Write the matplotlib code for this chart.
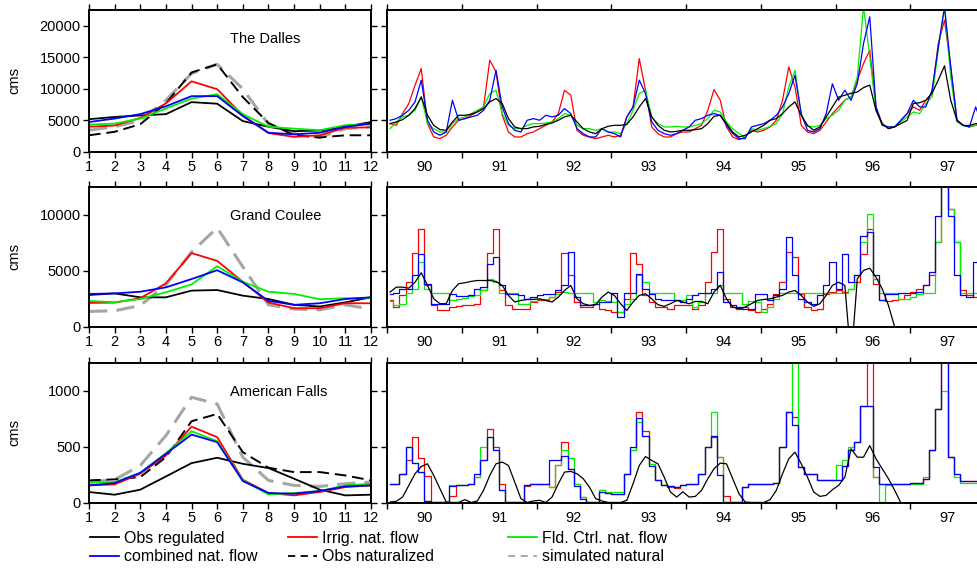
import numpy as np
import matplotlib
matplotlib.use("Agg")  # no display
import matplotlib.pyplot as plt
from matplotlib.lines import Line2D

plt.rcParams["font.family"] = ["Liberation Sans", "DejaVu Sans"]
nan = np.nan

# =========================
# AXES / LABELS
# =========================
MONTHS = list(range(1, 13))
YEARS = list(range(1990, 1998))
YEAR_LABELS = ["90", "91", "92", "93", "94", "95", "96", "97"]
STATIONS = ["The Dalles", "Grand Coulee", "American Falls"]
Y_TOP = [22500, 12500, 1250]
Y_TICKS = [[0, 5000, 10000, 15000, 20000], [0, 5000, 10000], [0, 500, 1000]]

# =========================
# MEAN MONTHLY FLOW (left column)
# =========================
DALLES_REG = [5200, 5550, 5800, 6000, 7900, 7650, 4900, 4000, 3300, 3400, 4000, 4750]
DALLES_IRR = [4000, 4200, 5400, 7700, 11200, 9950, 5800, 3000, 2400, 2650, 3850, 3900]
DALLES_FLD = [4350, 4500, 5300, 6900, 8450, 9150, 6000, 4000, 3700, 3450, 4250, 4400]
DALLES_COMB = [4750, 5300, 6000, 7250, 8850, 8850, 5700, 3050, 2800, 3050, 4000, 4500]
DALLES_OBSNAT = [2650, 3200, 4400, 7700, 12600, 13900, 8700, 4600, 2650, 2300, 2650, 2650]
DALLES_SIMNAT = [3450, 4000, 5000, 8200, 12450, 13900, 10000, 4400, 2900, 2300, 3700, 4000]

COULEE_REG = [2860, 3000, 2650, 2650, 3250, 3300, 2800, 2500, 1980, 1830, 2200, 2650]
COULEE_IRR = [2150, 2180, 2570, 3900, 6600, 5900, 4040, 2180, 1680, 1680, 2120, 2120]
COULEE_FLD = [2330, 2210, 2500, 3100, 3800, 5430, 4040, 3150, 2950, 2480, 2570, 2570]
COULEE_COMB = [2950, 3000, 3150, 3540, 4280, 5070, 3980, 2330, 1980, 2120, 2500, 2650]
COULEE_OBSNAT = [nan] * 12
COULEE_SIMNAT = [1390, 1450, 1920, 3750, 6700, 8850, 5370, 1980, 1600, 1530, 1980, 1600]

FALLS_REG = [98, 74, 119, 237, 356, 404, 350, 312, 217, 119, 68, 74]
FALLS_IRR = [157, 166, 261, 424, 682, 588, 208, 89, 68, 98, 142, 157]
FALLS_FLD = [181, 187, 267, 445, 641, 552, 202, 77, 89, 107, 157, 172]
FALLS_COMB = [157, 178, 270, 439, 611, 543, 196, 89, 83, 107, 148, 157]
FALLS_OBSNAT = [202, 211, 231, 409, 730, 795, 454, 315, 276, 276, 246, 202]
FALLS_SIMNAT = [187, 208, 335, 602, 944, 884, 409, 202, 157, 148, 172, 187]

# =========================
# MONTHLY SERIES 1990-1997 (right column)
# =========================
DALLES_TS_REG = [
    4500, 4760, 5130, 5820, 6880, 8730, 5820, 4230, 3540, 3440, 4760, 5820,
    5820, 5980, 6350, 6880, 7940, 8470, 7670, 5290, 3970, 3700, 3700, 3970,
    4070, 4390, 4600, 5030, 5560, 5820, 4760, 3700, 3170, 2910, 3700, 4070,
    4230, 4230, 4390, 5560, 7140, 8470, 5560, 4230, 3440, 3170, 3280, 3440,
    3440, 3540, 3700, 4500, 5660, 5820, 4500, 3170, 2380, 2650, 3170, 3700,
    4230, 5030, 5290, 6080, 7140, 7940, 5820, 4230, 3440, 3970, 5560, 7140,
    8700, 9000, 9300, 9500, 10200, 10600, 6600, 4500, 3700, 4000, 4500, 5000,
    7700, 7800, 8200, 9300, 11400, 13650, 8200, 5000, 4200, 4200, 4500, 4500]
DALLES_TS_IRR = [
    4500, 4230, 6080, 7670, 10580, 13230, 4500, 2380, 2120, 2650, 3970, 5030,
    5290, 5820, 6350, 7140, 14550, 12700, 5820, 3170, 2380, 2380, 2910, 3170,
    3700, 4230, 4760, 6080, 9790, 9000, 3440, 2650, 2380, 2120, 2380, 2650,
    2380, 2650, 5560, 7140, 14800, 9790, 3970, 2910, 2380, 2380, 2910, 3170,
    3170, 3700, 4230, 6610, 9900, 8200, 3970, 2380, 1960, 2380, 3440, 3170,
    3440, 3970, 5030, 8200, 13490, 10300, 4230, 3170, 2910, 3440, 4760, 6080,
    7140, 8200, 8730, 11380, 14020, 16140, 7140, 4500, 3700, 3970, 5030, 6080,
    7140, 6610, 8200, 9300, 17200, 20900, 13490, 5030, 4230, 3970, 4230, 4500]
DALLES_TS_FLD = [
    3700, 4760, 5560, 5820, 6610, 8730, 4500, 3700, 3170, 3170, 4500, 5290,
    5560, 6080, 6610, 7140, 9260, 9790, 6080, 4230, 3700, 3700, 4230, 4500,
    4500, 4600, 4760, 5290, 6080, 5820, 4230, 3700, 3700, 3440, 3700, 3170,
    3170, 2910, 4500, 6610, 9260, 9790, 5560, 4500, 3970, 3970, 4070, 3970,
    3970, 4230, 4500, 5290, 6610, 6350, 4760, 3700, 2910, 2380, 3700, 3440,
    3700, 4070, 4500, 6080, 10300, 12960, 5820, 4070, 3970, 4230, 5290, 5820,
    6610, 8200, 8730, 11900, 23000, 15080, 6610, 4230, 3970, 3970, 4760, 5560,
    6350, 6080, 7670, 8730, 16140, 23000, 11900, 4760, 4230, 3970, 4230, 4500]
DALLES_TS_COMB = [
    5030, 5290, 5820, 6610, 7940, 11380, 5030, 3170, 2650, 3170, 8200, 5030,
    5290, 5560, 5820, 6610, 8200, 12960, 7140, 4500, 3440, 3170, 5030, 5290,
    5030, 5820, 5560, 5820, 6880, 6080, 3700, 2910, 2380, 2380, 3700, 3170,
    2910, 2380, 5560, 7140, 11380, 9260, 4760, 3440, 2910, 2650, 2910, 3440,
    3970, 5030, 5290, 5820, 6080, 5820, 4230, 2910, 2120, 2120, 3970, 4230,
    4500, 5030, 5820, 7140, 9260, 12170, 6080, 3440, 3170, 3700, 6080, 10800,
    8200, 9790, 8200, 10850, 17200, 21430, 7140, 4230, 3970, 3970, 5030, 6080,
    8200, 7140, 7140, 9790, 16670, 23000, 13490, 5030, 4230, 3970, 7140, 4500]

COULEE_TS_REG = [
    3120, 3560, 3560, 3470, 4000, 4840, 3710, 2520, 2080, 2080, 3260, 3860,
    3950, 4070, 4150, 4150, 4150, 4070, 3710, 2820, 2230, 2370, 2460, 2460,
    2520, 2370, 2230, 2670, 3260, 3710, 2520, 2080, 1930, 1990, 2670, 3120,
    2820, 2080, 1480, 2230, 2820, 2970, 2520, 1990, 1840, 2080, 2370, 2230,
    2080, 2280, 2280, 2080, 3120, 3710, 2520, 1780, 1630, 1780, 2080, 2370,
    2460, 2520, 2670, 2820, 3120, 3260, 2820, 2230, 1840, 2080, 2820, 3710,
    4000, 3710, -3000, 4300, 5050, 5250, 4450, 3410, 1930, 0, -1500, nan,
    nan, nan, nan, nan, nan, nan, nan, nan, nan, nan, nan, nan]
COULEE_TS_IRR = [
    2370, 1780, 2820, 4000, 6620, 8750, 3710, 1930, 1480, 1480, 1780, 1870,
    1930, 1930, 2080, 3260, 6620, 8750, 3260, 1930, 1630, 1630, 1630, 2230,
    2370, 2370, 2670, 3120, 6620, 4600, 2230, 1780, 1780, 2080, 1630, 1480,
    1340, 1340, 2520, 6620, 5640, 2820, 2230, 1780, 1780, 1630, 1930, 1930,
    1930, 1630, 1930, 4000, 6680, 8750, 2520, 1780, 1630, 1780, 1480, 1340,
    1630, 2080, 2970, 4000, 6680, 6230, 2970, 1780, 1480, 1630, 2970, 3120,
    3260, 3120, 3410, 4000, 6530, 8750, 3860, 2370, 2280, 2370, 2520, 2820,
    3120, 3410, 3710, 4600, 7570, 13000, 10530, 7570, 3260, 2820, 2670, 2670]
COULEE_TS_FLD = [
    2280, 1930, 2080, 3060, 3410, 5790, 3410, 3060, 3060, 3060, 2370, 2460,
    2580, 2760, 2880, 3260, 4300, 4000, 3060, 3060, 3060, 2080, 2080, 2280,
    2460, 2520, 2670, 2970, 3120, 3060, 3060, 3060, 3060, 2230, 2370, 2280,
    2230, 1340, 2080, 2520, 4600, 4000, 3060, 3060, 3060, 3060, 2370, 2370,
    2820, 1780, 2230, 3060, 3060, 3710, 3060, 3060, 3060, 2080, 2280, 2230,
    1340, 1780, 2520, 3060, 3060, 3060, 3060, 3060, 3060, 3060, 3060, 3060,
    3060, 3060, 3410, 4600, 7570, 10090, 4300, 3060, 3060, 3060, 2460, 2520,
    2670, 2970, 3060, 3060, 7570, 13000, 10530, 7570, 3060, 3060, 3060, 3060]
COULEE_TS_COMB = [
    2970, 3060, 3350, 3410, 4600, 6530, 3860, 2080, 2080, 2080, 2970, 2760,
    2760, 2820, 3410, 3560, 5640, 6230, 3710, 2970, 2970, 2820, 2520, 2670,
    2820, 2970, 2970, 3260, 3710, 6740, 2670, 1930, 1930, 2080, 2230, 2230,
    3060, 890, 3060, 3060, 4750, 3410, 2970, 2520, 2370, 2370, 2370, 2230,
    2520, 2820, 3060, 3060, 3410, 4900, 2230, 1990, 1780, 1630, 1630, 2970,
    2970, 2370, 2820, 3410, 8010, 4600, 2520, 2230, 2080, 2820, 3710, 5790,
    3410, 6530, 4000, 4600, 8160, 8460, 4600, 2370, 2970, 2970, 3060, 3060,
    3060, 3120, 3710, 4900, 9940, 13000, 9940, 4600, 2820, 2670, 5790, 2580]

FALLS_TS_REG = [
    9, 15, 53, 157, 261, 326, 350, 246, 128, 9, 5, 5,
    30, 5, 18, 113, 246, 350, 365, 335, 187, 39, 5, 18,
    24, 5, 53, 172, 276, 282, 261, 217, 142, 39, 18, 5,
    5, 5, 24, 172, 335, 415, 380, 350, 231, 98, 53, 100,
    53, 59, 113, 217, 306, 356, 350, 217, 83, 9, 5, 5,
    5, 30, 113, 261, 395, 454, 350, 231, 98, 59, 68, 119,
    157, 231, 484, 409, 409, 513, 395, 306, 217, 113, 0, -200,
    nan, nan, nan, nan, nan, nan, nan, nan, nan, nan, nan, nan]
FALLS_TS_IRR = [
    166, 166, 261, 380, 587, 400, 240, 9, 5, 5, 60, 157,
    157, 166, 231, 380, 662, 498, 172, 9, 5, 5, 148, 166,
    166, 166, 142, 335, 543, 306, 172, 53, 9, 5, 113, 89,
    83, 77, 261, 469, 816, 647, 350, 202, 157, 142, 136, 157,
    166, 172, 261, 498, 587, 409, 60, 9, 5, 142, 172, 172,
    172, 172, 178, 498, 810, 765, 320, 261, 261, 202, 202, 202,
    202, 330, 470, 543, 869, 1300, 231, 172, 172, 172, 172, 172,
    178, 178, 217, 469, 840, 1300, 409, 261, 196, 196, 196, 196]
FALLS_TS_FLD = [
    166, 166, 261, 498, 360, 280, 20, 5, 5, 5, 157, 157,
    160, 166, 231, 498, 593, 469, 113, 9, 5, 5, 160, 166,
    166, 166, 142, 335, 469, 400, 172, 53, 9, 5, 113, 98,
    98, 98, 261, 469, 720, 600, 350, 202, 157, 148, 142, 157,
    166, 172, 261, 498, 816, 409, 5, 5, 5, 142, 172, 172,
    172, 172, 178, 498, 810, 1300, 320, 261, 261, 202, 202, 202,
    335, 380, 498, 543, 869, 869, 231, 5, 157, 172, 172, 172,
    172, 172, 231, 469, 840, 1000, 409, 231, 178, 178, 178, 178]
FALLS_TS_COMB = [
    166, 166, 261, 498, 360, 280, 20, 5, 5, 5, 150, 157,
    160, 166, 261, 380, 593, 469, 113, 9, 5, 5, 160, 166,
    166, 166, 380, 380, 420, 306, 150, 40, 9, 5, 98, 89,
    83, 77, 261, 498, 760, 600, 330, 202, 157, 148, 142, 157,
    166, 172, 261, 498, 600, 250, 5, 5, 5, 142, 172, 172,
    172, 172, 178, 498, 810, 700, 320, 261, 261, 202, 202, 202,
    202, 330, 470, 543, 869, 869, 320, 172, 172, 172, 172, 172,
    178, 178, 217, 469, 840, 1300, 409, 261, 196, 196, 196, 196]

LEFT_DATA = [
    (DALLES_REG, DALLES_IRR, DALLES_FLD, DALLES_COMB, DALLES_OBSNAT, DALLES_SIMNAT),
    (COULEE_REG, COULEE_IRR, COULEE_FLD, COULEE_COMB, COULEE_OBSNAT, COULEE_SIMNAT),
    (FALLS_REG, FALLS_IRR, FALLS_FLD, FALLS_COMB, FALLS_OBSNAT, FALLS_SIMNAT),
]
RIGHT_DATA = [
    (DALLES_TS_REG, DALLES_TS_IRR, DALLES_TS_FLD, DALLES_TS_COMB),
    (COULEE_TS_REG, COULEE_TS_IRR, COULEE_TS_FLD, COULEE_TS_COMB),
    (FALLS_TS_REG, FALLS_TS_IRR, FALLS_TS_FLD, FALLS_TS_COMB),
]
STEPPED = [False, True, True]

# =========================
# STYLE
# =========================
RED = "#ff0000"
GREEN = "#00ee00"
BLUE = "#0000ff"
GREY = "#a6a6a6"
FS = 10.5

LEFT_X, LEFT_W = 89 / 977, 282 / 977
RIGHT_X, RIGHT_W = 387 / 977, 598 / 977
ROWS = [(10, 152), (187, 327), (363, 503)]  # top/bottom in pixels


def style_axes(ax, ymax, yticks):
    ax.set_ylim(0, ymax)
    ax.set_yticks(yticks)
    for s in ax.spines.values():
        s.set_linewidth(1.4)
    ax.tick_params(which="both", direction="out", length=4, width=1,
                   labelsize=FS, pad=2, top=True, right=True)


def main():
    fig = plt.figure(figsize=(9.77, 5.71), dpi=100)
    t = np.array([y + (m - 0.5) / 12 for y in YEARS for m in MONTHS])

    for i, (top, bot) in enumerate(ROWS):
        y0 = (571 - bot) / 571
        h = (bot - top) / 571

        # ---- left: mean monthly ----
        ax = fig.add_axes([LEFT_X, y0, LEFT_W, h])
        reg, irr, fld, comb, obsnat, simnat = LEFT_DATA[i]
        ax.plot(MONTHS, simnat, color=GREY, lw=2.2, dashes=(6, 3))
        ax.plot(MONTHS, obsnat, color="black", lw=1.4, dashes=(6, 3))
        ax.plot(MONTHS, reg, color="black", lw=1.3)
        ax.plot(MONTHS, irr, color=RED, lw=1.3)
        ax.plot(MONTHS, fld, color=GREEN, lw=1.3)
        ax.plot(MONTHS, comb, color=BLUE, lw=1.3)
        ax.set_xlim(1, 12)
        ax.set_xticks(MONTHS)
        style_axes(ax, Y_TOP[i], Y_TICKS[i])
        ax.text(0.5, 0.795, STATIONS[i], transform=ax.transAxes,
                ha="left", va="center", fontsize=10.5)
        ax.set_ylabel("cms", fontsize=FS)
        ax.yaxis.set_label_coords(-0.24, 0.5)

        # ---- right: time series ----
        ax2 = fig.add_axes([RIGHT_X, y0, RIGHT_W, h])
        reg, irr, fld, comb = RIGHT_DATA[i]
        ds = "steps-mid" if STEPPED[i] else "default"
        ax2.plot(t, irr, color=RED, lw=0.9, drawstyle=ds)
        ax2.plot(t, fld, color=GREEN, lw=0.9, drawstyle=ds)
        ax2.plot(t, comb, color=BLUE, lw=0.9, drawstyle=ds)
        ax2.plot(t, reg, color="black", lw=0.9)
        ax2.set_xlim(1990, 1998)
        ax2.set_xticks(range(1990, 1999))
        ax2.set_xticklabels([])
        ax2.set_xticks([y + 0.5 for y in YEARS], minor=True)
        ax2.set_xticklabels(YEAR_LABELS, minor=True)
        style_axes(ax2, Y_TOP[i], Y_TICKS[i])
        ax2.set_yticklabels([])
        ax2.tick_params(axis="x", which="minor", length=0, pad=6)

    # ---- legend: three columns of two entries ----
    cols = [
        (90, [("Obs regulated", dict(color="black")),
              ("combined nat. flow", dict(color=BLUE))]),
        (288, [("Irrig. nat. flow", dict(color=RED)),
               ("Obs naturalized", dict(color="black", dashes=(4, 3)))]),
        (508, [("Fld. Ctrl. nat. flow", dict(color=GREEN)),
               ("simulated natural", dict(color=GREY, dashes=(4, 3)))]),
    ]
    for x, entries in cols:
        handles = [Line2D([], [], lw=1.3, **kw) for _, kw in entries]
        labels = [lab for lab, _ in entries]
        fig.legend(handles, labels, loc="upper left",
                   bbox_to_anchor=(x / 977, (571 - 531) / 571),
                   frameon=False, fontsize=11.5, borderpad=0, borderaxespad=0,
                   handlelength=1.8, handletextpad=0.3, labelspacing=0.2)

    fig.savefig("out.png", dpi=100)
    plt.close(fig)


if __name__ == "__main__":
    main()
